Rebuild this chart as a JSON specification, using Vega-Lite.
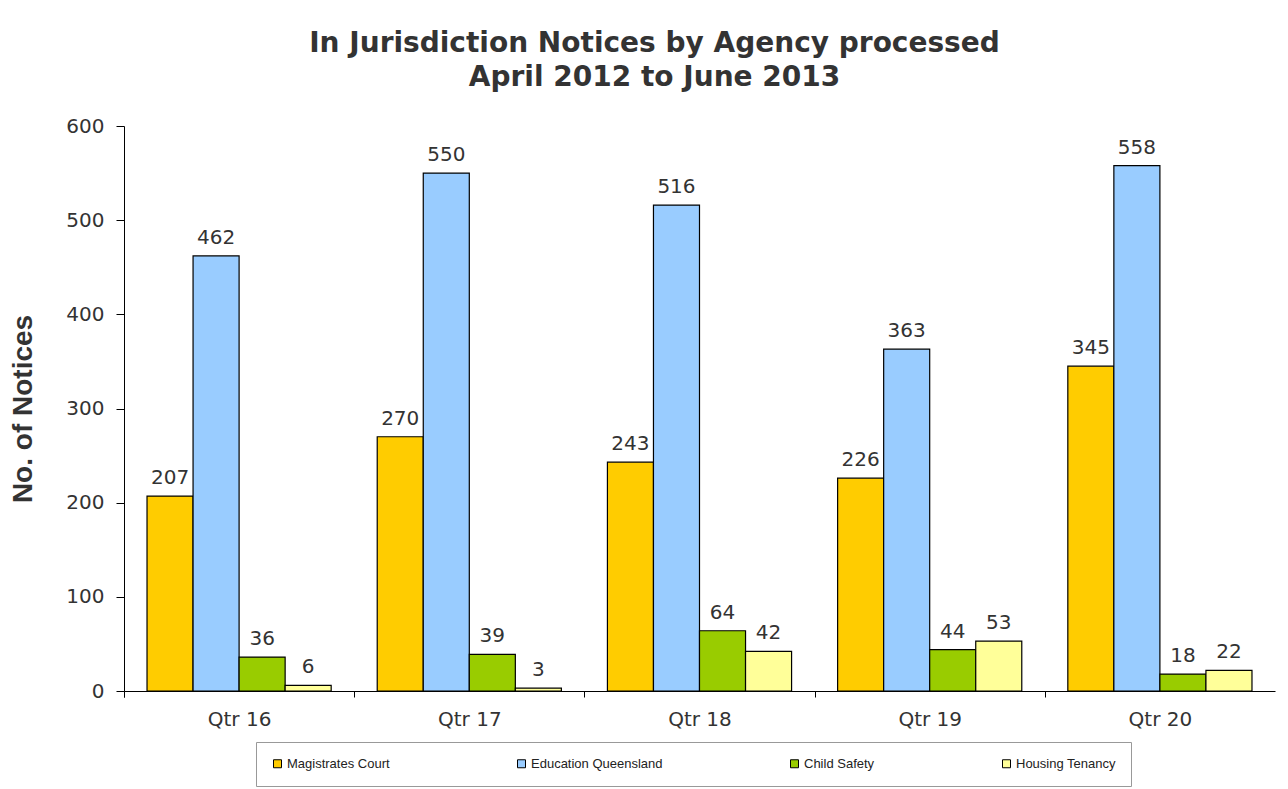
{
  "$schema": "https://vega.github.io/schema/vega-lite/v6.json",
  "width": 1151,
  "height": 565,
  "autosize": {"type": "none"},
  "padding": {"left": 124, "top": 126, "right": 13, "bottom": 98},
  "background": "white",
  "title": {
    "text": ["In Jurisdiction Notices by Agency processed", "April 2012 to June 2013"],
    "font": "DejaVu Sans",
    "fontSize": 28,
    "fontWeight": "bold",
    "color": "#333333",
    "anchor": "middle",
    "frame": "group",
    "dx": -45,
    "offset": 24,
    "lineHeight": 34
  },
  "data": {
    "values": [
      {"quarter": "Qtr 16", "agency": "Magistrates Court", "notices": 207},
      {"quarter": "Qtr 16", "agency": "Education Queensland", "notices": 462},
      {"quarter": "Qtr 16", "agency": "Child Safety", "notices": 36},
      {"quarter": "Qtr 16", "agency": "Housing Tenancy", "notices": 6},
      {"quarter": "Qtr 17", "agency": "Magistrates Court", "notices": 270},
      {"quarter": "Qtr 17", "agency": "Education Queensland", "notices": 550},
      {"quarter": "Qtr 17", "agency": "Child Safety", "notices": 39},
      {"quarter": "Qtr 17", "agency": "Housing Tenancy", "notices": 3},
      {"quarter": "Qtr 18", "agency": "Magistrates Court", "notices": 243},
      {"quarter": "Qtr 18", "agency": "Education Queensland", "notices": 516},
      {"quarter": "Qtr 18", "agency": "Child Safety", "notices": 64},
      {"quarter": "Qtr 18", "agency": "Housing Tenancy", "notices": 42},
      {"quarter": "Qtr 19", "agency": "Magistrates Court", "notices": 226},
      {"quarter": "Qtr 19", "agency": "Education Queensland", "notices": 363},
      {"quarter": "Qtr 19", "agency": "Child Safety", "notices": 44},
      {"quarter": "Qtr 19", "agency": "Housing Tenancy", "notices": 53},
      {"quarter": "Qtr 20", "agency": "Magistrates Court", "notices": 345},
      {"quarter": "Qtr 20", "agency": "Education Queensland", "notices": 558},
      {"quarter": "Qtr 20", "agency": "Child Safety", "notices": 18},
      {"quarter": "Qtr 20", "agency": "Housing Tenancy", "notices": 22}
    ]
  },
  "encoding": {
    "x": {
      "field": "quarter",
      "type": "nominal",
      "sort": null,
      "scale": {"paddingInner": 0.2, "paddingOuter": 0.1},
      "axis": {
        "title": null,
        "labelAngle": 0,
        "labelFont": "DejaVu Sans",
        "labelFontSize": 20,
        "labelColor": "#333333",
        "labelPadding": 12,
        "labelOffset": 23,
        "bandPosition": 0,
        "tickExtra": true,
        "tickOffset": -23,
        "tickSize": 6,
        "tickColor": "#000000",
        "domainColor": "#000000"
      }
    },
    "xOffset": {
      "field": "agency",
      "type": "nominal",
      "sort": ["Magistrates Court", "Education Queensland", "Child Safety", "Housing Tenancy"],
      "scale": {"paddingInner": 0, "paddingOuter": 0}
    },
    "y": {
      "field": "notices",
      "type": "quantitative",
      "scale": {"domain": [0, 600], "nice": false},
      "axis": {
        "title": "No. of Notices",
        "titleFont": "Liberation Sans",
        "titleFontSize": 28,
        "titleFontWeight": "bold",
        "titleColor": "#333333",
        "titlePadding": 28,
        "values": [0, 100, 200, 300, 400, 500, 600],
        "labelFont": "DejaVu Sans",
        "labelFontSize": 20,
        "labelColor": "#333333",
        "labelPadding": 12,
        "tickSize": 8,
        "tickColor": "#000000",
        "domainColor": "#000000",
        "grid": false
      }
    }
  },
  "layer": [
    {
      "mark": {"type": "bar", "stroke": "#000000", "strokeWidth": 1.2},
      "encoding": {
        "color": {
          "field": "agency",
          "type": "nominal",
          "sort": ["Magistrates Court", "Education Queensland", "Child Safety", "Housing Tenancy"],
          "scale": {
            "domain": ["Magistrates Court", "Education Queensland", "Child Safety", "Housing Tenancy"],
            "range": ["#FFCC00", "#99CCFF", "#99CC00", "#FFFF99"]
          },
          "legend": {
            "title": null,
            "orient": "none",
            "legendX": 132,
            "legendY": 616,
            "direction": "horizontal",
            "columns": 4,
            "columnPadding": 125,
            "padding": 15,
            "strokeColor": "#999999",
            "symbolType": "square",
            "symbolSize": 64,
            "symbolStrokeColor": "#000000",
            "symbolStrokeWidth": 1,
            "symbolOpacity": 1,
            "labelFont": "Liberation Sans",
            "labelFontSize": 13,
            "labelColor": "#222222",
            "labelOffset": 3
          }
        }
      }
    },
    {
      "mark": {"type": "text", "baseline": "bottom", "dy": -8, "font": "DejaVu Sans", "fontSize": 20, "color": "#333333"},
      "encoding": {
        "text": {"field": "notices", "type": "quantitative"}
      }
    }
  ],
  "config": {
    "view": {"stroke": null}
  }
}
